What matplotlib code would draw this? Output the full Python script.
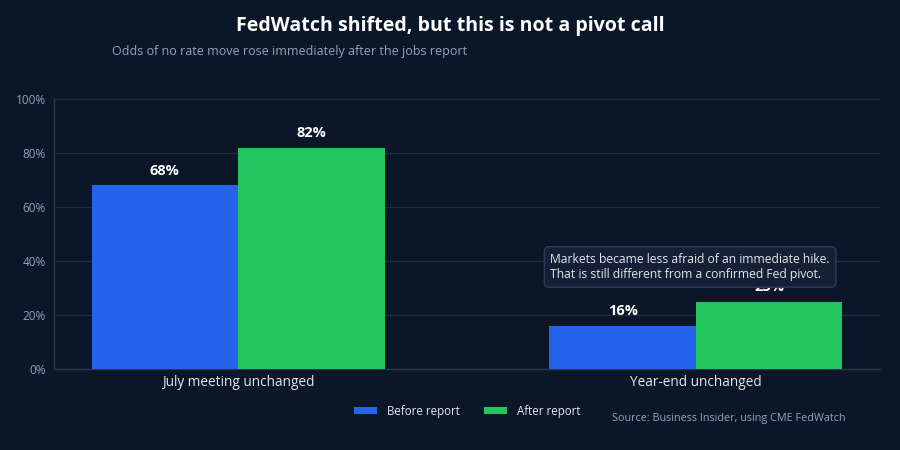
import matplotlib
matplotlib.use("Agg")
import matplotlib.pyplot as plt
import numpy as np

plt.rcParams['font.family'] = ['Open Sans', 'DejaVu Sans']

categories = ["July meeting unchanged", "Year-end unchanged"]
before = [68, 16]
after = [82, 25]
series_names = ["Before report", "After report"]
yticks = [0, 20, 40, 60, 80, 100]
ytick_labels = ["0%", "20%", "40%", "60%", "80%", "100%"]

BG = "#0b1628"
BLUE = "#2563eb"
GREEN = "#22c55e"
GRID = "#1f2b3e"
TXT = "#e5e7eb"
MUTED = "#94a3b8"

fig = plt.figure(figsize=(9, 4.5), dpi=100, facecolor=BG)
ax = fig.add_axes([54/900, 1-369/450, (880-54)/900, (369-99)/450])
ax.set_facecolor(BG)

x = np.arange(len(categories))
w = 0.32
b1 = ax.bar(x - w/2, before, w, color=BLUE, label=series_names[0], zorder=3)
b2 = ax.bar(x + w/2, after, w, color=GREEN, label=series_names[1], zorder=3)

for bars, vals in ((b1, before), (b2, after)):
    for rect, v in zip(bars, vals):
        ax.text(rect.get_x() + rect.get_width()/2, v + 2.8, f"{v}%",
                ha="center", va="bottom", color="white", fontsize=10.5,
                fontweight="bold", zorder=4)

ax.set_xlim(-0.402, 1.402)
ax.set_ylim(0, 100)
ax.set_yticks(yticks)
ax.set_yticklabels(ytick_labels, color=MUTED, fontsize=8.5)
ax.set_xticks(x)
ax.set_xticklabels(categories, color=TXT, fontsize=9.8)
ax.tick_params(axis="both", length=0, pad=6)
ax.tick_params(axis="x", pad=4)
ax.grid(axis="y", color=GRID, linewidth=1, zorder=0)
for s in ["top", "right"]:
    ax.spines[s].set_visible(False)
for s in ["left", "bottom"]:
    ax.spines[s].set_color("#2a3649")
    ax.spines[s].set_linewidth(1)

# annotation box
ax.text(1 - 0.32 - 0.02 + 0.022, 37.8,
        "Markets became less afraid of an immediate hike.\nThat is still different from a confirmed Fed pivot.",
        ha="left", va="center", color=TXT, fontsize=8.7, linespacing=1.25, zorder=6,
        bbox=dict(boxstyle="round,pad=0.5,rounding_size=0.4", facecolor="#142036",
                  edgecolor="#2d3b55", linewidth=1))

fig.text(450/900, 1-26/450, "FedWatch shifted, but this is not a pivot call",
         ha="center", va="center", color="white", fontsize=14.1, fontweight="bold")
fig.text(112/900, 1-51/450, "Odds of no rate move rose immediately after the jobs report",
         ha="left", va="center", color=MUTED, fontsize=9.0)

leg = fig.legend(handles=[b1, b2], labels=series_names, loc="center",
                 bbox_to_anchor=(467/900, 1-411/450), ncol=2, frameon=False,
                 fontsize=8.3, handlelength=2.0, handleheight=0.6, columnspacing=2.1,
                 handletextpad=0.85, labelcolor=TXT)

fig.text(846/900, 1-419/450, "Source: Business Insider, using CME FedWatch",
         ha="right", va="center", color=MUTED, fontsize=7.8)

fig.savefig("out.png", dpi=100, facecolor=BG)
